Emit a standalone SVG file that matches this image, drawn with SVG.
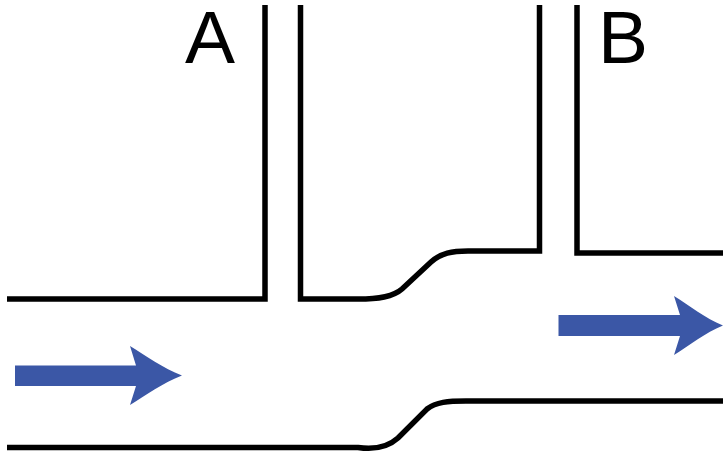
<svg xmlns="http://www.w3.org/2000/svg" width="723" height="454" viewBox="0 0 723 454">
<style>
.wall{fill:none;stroke:#000;stroke-width:5.500;stroke-linejoin:miter}
.flow{fill:#3b57a6}
.label{font-family:"Liberation Sans",Arial,sans-serif;font-size:75px;fill:#000}
</style>
<rect width="723" height="454" fill="#fff"/>
<g id="connectors">
<path class="wall" d="M7 299H265V5"/>
<path class="wall" d="M300.500 5V299H358C378 299 393 297 402 289L431 262C441 253 452 251 468 251H539.500V5"/>
<path class="wall" d="M577 5V253H723"/>
<path class="wall" d="M7 447.500H358C375 450 388 447 398 438L427 409C436 402 448 401 466 401H723"/>
</g>
<g id="arrow-in"><path class="flow" d="M15 365.500H136L130 346C146 356 163 368 182 375.500C163 383 146 395 130 405L136 386H15Z"/></g>
<g id="arrow-out"><path class="flow" d="M558.500 315H680L674 296C690 306 705 318 723 325.500C705 333 690 345 674 355L680 336H558.500Z"/></g>
<g id="label-a"><text class="label" x="185" y="62.500">A</text></g>
<g id="label-b"><text class="label" x="598" y="62.500">B</text></g>
</svg>
